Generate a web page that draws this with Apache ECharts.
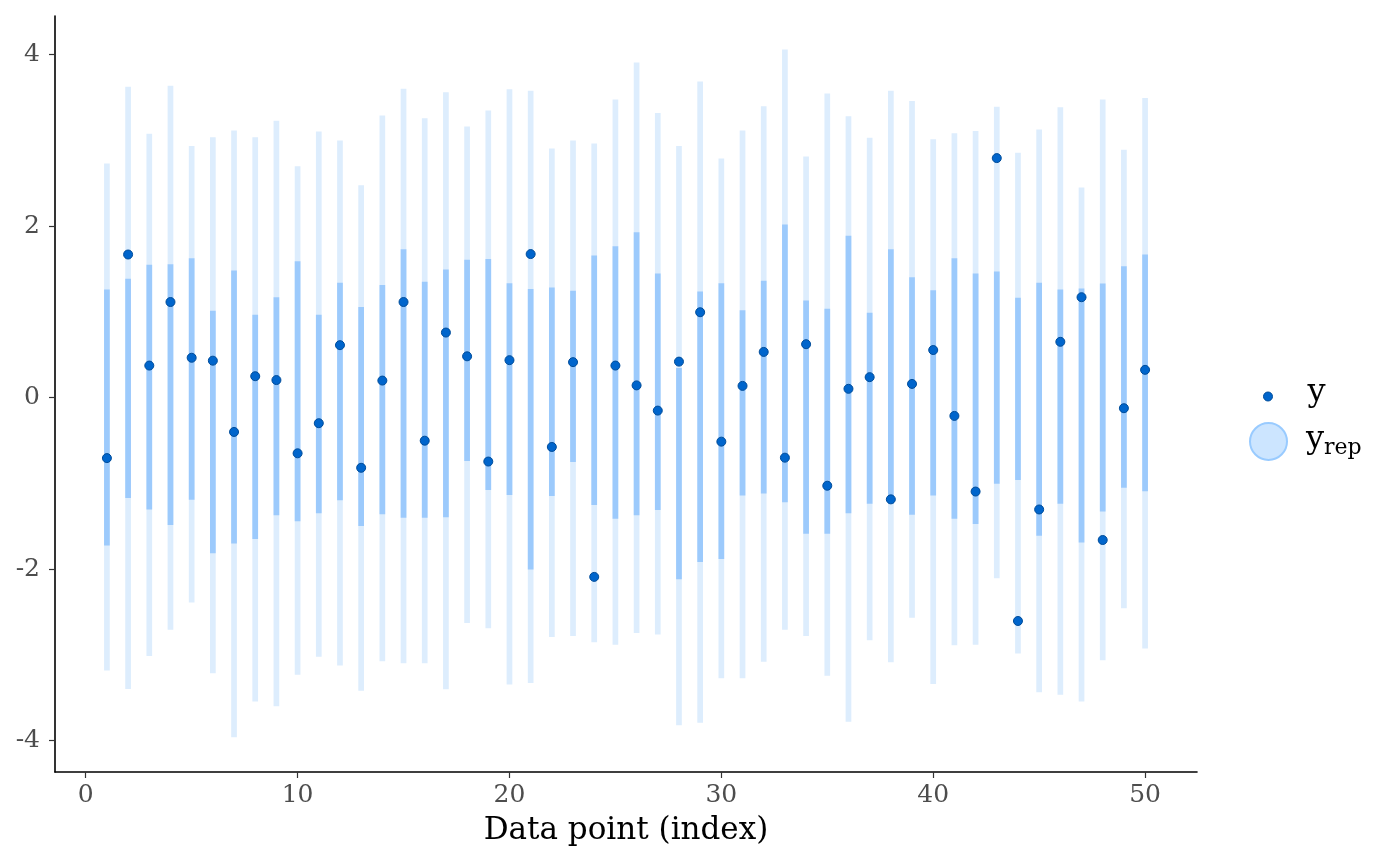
<!DOCTYPE html>
<html><head><meta charset="utf-8">
<script src="https://cdn.jsdelivr.net/npm/echarts@6/dist/echarts.min.js"></script>
<style>html,body{margin:0;padding:0;background:#fff}#c{width:1400px;height:866px}</style>
</head><body><div id="c"></div>
<script>
const idx = [1,2,3,4,5,6,7,8,9,10,11,12,13,14,15,16,17,18,19,20,21,22,23,24,25,26,27,28,29,30,31,32,33,34,35,36,37,38,39,40,41,42,43,44,45,46,47,48,49,50];
const yObs = [-0.705,1.669,0.374,1.115,0.465,0.431,-0.400,0.250,0.205,-0.649,
  -0.298,0.612,-0.818,0.199,1.115,-0.502,0.759,0.482,-0.745,0.437,
  1.674,-0.575,0.414,-2.090,0.374,0.143,-0.151,0.420,0.996,-0.513,
  0.137,0.533,-0.700,0.623,-1.027,0.103,0.239,-1.186,0.160,0.555,
  -0.213,-1.095,2.793,-2.604,-1.304,0.651,1.171,-1.660,-0.123,0.324];
const outerLow = [-3.181,-3.396,-3.011,-2.706,-2.389,-3.215,-3.961,-3.542,-3.599,-3.232,
  -3.022,-3.124,-3.418,-3.073,-3.096,-3.096,-3.401,-2.627,-2.689,-3.345,
  -3.328,-2.791,-2.779,-2.853,-2.881,-2.745,-2.762,-3.819,-3.791,-3.271,
  -3.271,-3.079,-2.706,-2.779,-3.243,-3.780,-2.830,-3.085,-2.565,-3.339,
  -2.887,-2.881,-2.107,-2.983,-3.435,-3.463,-3.542,-3.062,-2.457,-2.926];
const innerLow = [-1.723,-1.169,-1.304,-1.485,-1.191,-1.813,-1.700,-1.649,-1.372,-1.440,
  -1.349,-1.197,-1.496,-1.361,-1.400,-1.400,-1.395,-0.739,-1.078,-1.135,
  -2.005,-1.146,-0.750,-1.253,-1.412,-1.372,-1.310,-2.118,-1.915,-1.881,
  -1.140,-1.118,-1.219,-1.587,-1.587,-1.349,-1.236,-1.236,-1.366,-1.140,
  -1.412,-1.474,-1.005,-0.960,-1.609,-1.236,-1.689,-1.327,-1.050,-1.090];
const innerHigh = [1.262,1.386,1.550,1.556,1.624,1.013,1.482,0.968,1.171,1.590,
  0.968,1.341,1.058,1.313,1.731,1.352,1.494,1.607,1.618,1.335,
  1.267,1.284,1.245,1.657,1.765,1.929,1.448,0.346,1.239,1.335,
  1.019,1.364,2.019,1.132,1.036,1.889,0.991,1.731,1.403,1.251,
  1.624,1.448,1.471,1.166,1.341,1.262,1.273,1.330,1.533,1.669];
const outerHigh = [2.731,3.624,3.076,3.636,2.935,3.037,3.116,3.037,3.229,2.697,
  3.104,2.997,2.477,3.291,3.602,3.257,3.562,3.161,3.347,3.596,
  3.579,2.906,2.997,2.963,3.477,3.907,3.319,2.935,3.687,2.788,
  3.116,3.398,4.060,2.811,3.545,3.280,3.031,3.579,3.460,3.014,
  3.082,3.110,3.393,2.856,3.127,3.387,2.449,3.477,2.890,3.494];
const xTicks = [0,10,20,30,40,50];
const yTicks = [-4,-2,0,2,4];

const FONT = 'DejaVu Serif';
const outerData = idx.map((x,i)=>[x,outerLow[i],outerHigh[i]]);
const innerData = idx.map((x,i)=>[x,innerLow[i],innerHigh[i]]);
const pointData = idx.map((x,i)=>[x,yObs[i]]);

function rangeRender(w){
  return function(params, api){
    const x = api.value(0);
    const lo = api.coord([x, api.value(1)]);
    const hi = api.coord([x, api.value(2)]);
    return {type:'rect', shape:{x:lo[0]-w/2, y:hi[1], width:w, height:lo[1]-hi[1]},
      style:{fill:api.visual('color')}};
  };
}

const chart = echarts.init(document.getElementById('c'));
chart.setOption({
  animation:false,
  backgroundColor:'#ffffff',
  grid:{left:55, right:203, top:16, bottom:94, containLabel:false},
  xAxis:{
    type:'value', min:-1.45, max:52.45,
    splitLine:{show:false},
    axisLine:{onZero:false, lineStyle:{color:'#000', width:1.6}},
    axisTick:{customValues:xTicks, length:6, lineStyle:{color:'#333', width:1.2}},
    axisLabel:{customValues:xTicks, color:'#4d4d4d', fontFamily:FONT, fontSize:25, margin:11},
    name:'Data point (index)', nameLocation:'middle', nameGap:43,
    nameTextStyle:{color:'#000', fontFamily:FONT, fontSize:31}
  },
  yAxis:{
    type:'value', min:-4.365, max:4.45,
    splitLine:{show:false},
    axisLine:{onZero:false, lineStyle:{color:'#000', width:1.6}},
    axisTick:{customValues:yTicks, length:6, lineStyle:{color:'#333', width:1.2}},
    axisLabel:{customValues:yTicks, color:'#4d4d4d', fontFamily:FONT, fontSize:25, margin:15}
  },
  legend:[
    {
      data:[{name:'y', icon:'circle', itemStyle:{color:'#0065cc', borderColor:'#004c99', borderWidth:1}}],
      left:1258, top:372, orient:'vertical',
      itemWidth:9, itemHeight:9,
      formatter:function(){ return '{a|y}'; },
      textStyle:{fontFamily:FONT, color:'#000',
        rich:{a:{fontFamily:FONT, fontSize:32, color:'#000', padding:[0,0,7,30]}}}
    },
    {
      data:[{name:'y_rep', icon:'circle', itemStyle:{color:'#cce5ff', borderColor:'#99cbff', borderWidth:2}}],
      left:1244, top:417, orient:'vertical',
      itemWidth:37, itemHeight:37,
      formatter:function(){ return '{a|y}{b|rep}'; },
      textStyle:{fontFamily:FONT, color:'#000',
        rich:{a:{fontFamily:FONT, fontSize:32, color:'#000', lineHeight:36, verticalAlign:'top', padding:[0,0,0,14]},
              b:{fontFamily:FONT, fontSize:22, color:'#000', lineHeight:22, verticalAlign:'bottom'}}}
    }
  ],
  series:[
    {name:'y_rep', type:'custom', data:outerData, encode:{x:0, y:[1,2]},
      itemStyle:{color:'#ddedfd'}, renderItem:rangeRender(5.7), z:1},
    {name:'y_rep', type:'custom', data:innerData, encode:{x:0, y:[1,2]},
      itemStyle:{color:'#9ccafc'}, renderItem:rangeRender(5.7), z:2},
    {name:'y', type:'scatter', data:pointData, symbol:'circle', symbolSize:9,
      itemStyle:{color:'#0065cc', borderColor:'#004c99', borderWidth:1, opacity:1}, z:3}
  ]
});
</script></body></html>
